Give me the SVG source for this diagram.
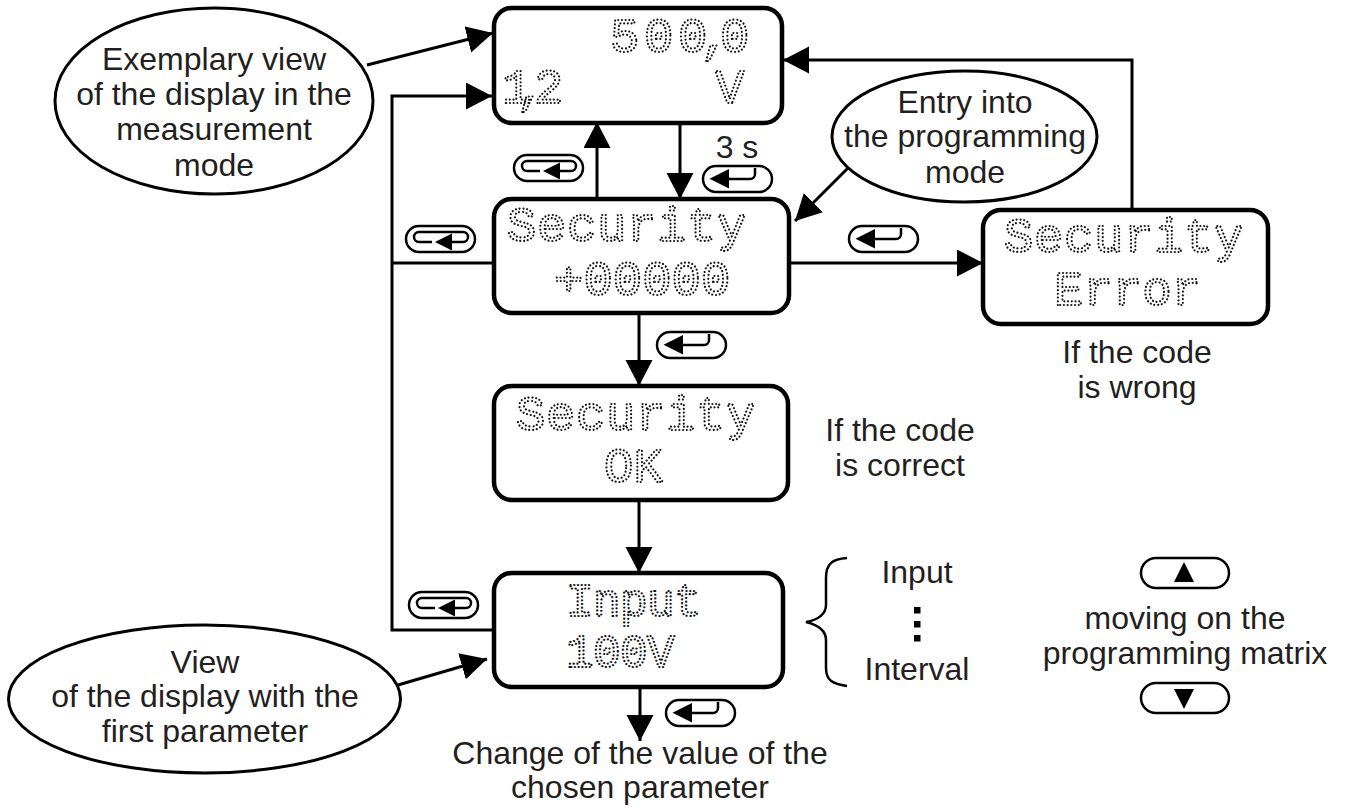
<svg xmlns="http://www.w3.org/2000/svg" width="1348" height="808" viewBox="0 0 1348 808">
<style>
.t{font-family:"Liberation Sans",Arial,sans-serif;font-size:32px;fill:#231f20;text-anchor:middle}
.box{fill:#fff;stroke:#000;stroke-width:4.5}
.ell{fill:#fff;stroke:#000;stroke-width:3}
.c{fill:none;stroke:#000;stroke-width:3}
.b{fill:#fff;stroke:#000;stroke-width:2.5}
.l{fill:none;stroke:#000;stroke-width:2.5}
.d{font-family:"Liberation Mono",monospace;font-size:49px;fill:none;stroke:#111;stroke-width:2.2;stroke-linecap:round;stroke-dasharray:0.01 3.7}
.s{letter-spacing:.6px}
.n{font-size:46px;letter-spacing:-.6px}
</style>
<defs>
<marker id="a" markerUnits="userSpaceOnUse" markerWidth="28" markerHeight="28" refX="26" refY="13.5" orient="auto"><path d="M0 0L26 13.5L0 27Z"/></marker>
<g id="esc"><rect class="b" x="1" y="1" width="69" height="26" rx="13"/><path class="l" d="M27 17H14a5 5 0 0 1 0-10H58a5 5 0 0 1 0 10H45"/><path d="M30 17L47 8.500V25.500Z"/></g>
<g id="ent"><rect class="b" x="1" y="1" width="69" height="26" rx="13"/><path class="l" d="M53 3V9a5 5 0 0 1-5 5H25"/><path d="M7.500 13.700L27 4V23.500Z"/></g>
</defs>
<g id="connectors" class="c">
<path marker-end="url(#a)" d="M367 65L493 33"/>
<path marker-end="url(#a)" d="M494 630H392V96H492"/>
<path d="M392 263H494"/>
<path marker-end="url(#a)" d="M597 199V122"/>
<path marker-end="url(#a)" d="M680 122V199"/>
<path marker-end="url(#a)" d="M790 263H983"/>
<path marker-end="url(#a)" d="M1132 210V60H783"/>
<path marker-end="url(#a)" d="M848 168L795 221"/>
<path marker-end="url(#a)" d="M639 313V386"/>
<path marker-end="url(#a)" d="M639 500V573"/>
<path marker-end="url(#a)" d="M398 685L487 659"/>
<path marker-end="url(#a)" d="M640 687V741"/>
<path stroke-width="2.500" d="M847 558C832 559 826 564 826 578V605C826 614 818 620 806 622C818 625 826 630 826 640V668C826 680 832 684 847 686"/>
</g>
<g id="n1"><rect class="box" x="494" y="8" width="288" height="115" rx="18"/><text class="d" x="610 644 678 700 720" y="52">500,0</text><text class="d" x="502 516 534" y="103">1,2</text><text class="d" x="715" y="103">V</text></g>
<g id="n2"><rect class="box" x="494" y="199" width="295" height="114" rx="18"/><text class="d s" x="507" y="241">Security</text><text class="d" x="554" y="295">+00000</text></g>
<g id="n3"><rect class="box" x="494" y="386" width="294" height="114" rx="18"/><text class="d s" x="516" y="430">Security</text><text class="d" x="604" y="482">OK</text></g>
<g id="n4"><rect class="box" x="494" y="573" width="289" height="114" rx="18"/><text class="d n" x="566" y="616">Input</text><text class="d n" x="566" y="667">100V</text></g>
<g id="n5"><rect class="box" x="983" y="210" width="285" height="114" rx="18"/><text class="d s" x="1004" y="252">Security</text><text class="d" x="1054" y="305">Error</text></g>
<g id="e1"><ellipse class="ell" cx="214" cy="101" rx="159" ry="93"/><text class="t" x="214" y="70">Exemplary view</text><text class="t" x="214" y="105">of the display in the</text><text class="t" x="214" y="140">measurement</text><text class="t" x="214" y="176">mode</text></g>
<g id="e2"><ellipse class="ell" cx="964.500" cy="136.500" rx="132.500" ry="65.500"/><text class="t" x="965" y="113">Entry into</text><text class="t" x="965" y="147">the programming</text><text class="t" x="965" y="183">mode</text></g>
<g id="e3"><ellipse class="ell" cx="204.500" cy="699" rx="196" ry="74"/><text class="t" x="205" y="673">View</text><text class="t" x="205" y="707">of the display with the</text><text class="t" x="205" y="742">first parameter</text></g>
<g id="buttons">
<use href="#esc" x="513" y="154"/><use href="#esc" x="405" y="225"/><use href="#esc" x="408" y="591"/>
<use href="#ent" x="702" y="165"/><use href="#ent" x="848" y="225"/><use href="#ent" x="656" y="331"/><use href="#ent" x="665" y="699"/>
<rect class="b" x="1141" y="558" width="88" height="30" rx="15"/><path d="M1184 562L1194 582H1174Z"/>
<rect class="b" x="1141" y="683" width="88" height="30" rx="15"/><path d="M1174 689H1194L1184 709Z"/>
<path d="M914 607h6.500v6.500h-6.500zM914 621h6.500v6.500h-6.500zM914 635h6.500v6.500h-6.500z"/>
</g>
<g id="labels">
<text class="t" x="737" y="158">3 s</text>
<text class="t" x="1137" y="363">If the code</text><text class="t" x="1137" y="398">is wrong</text>
<text class="t" x="900" y="441">If the code</text><text class="t" x="900" y="476">is correct</text>
<text class="t" x="917" y="583">Input</text><text class="t" x="917" y="680">Interval</text>
<text class="t" x="1185" y="629">moving on the</text><text class="t" x="1185" y="664">programming matrix</text>
<text class="t" x="640" y="764">Change of the value of the</text><text class="t" x="640" y="798">chosen parameter</text>
</g>
</svg>
